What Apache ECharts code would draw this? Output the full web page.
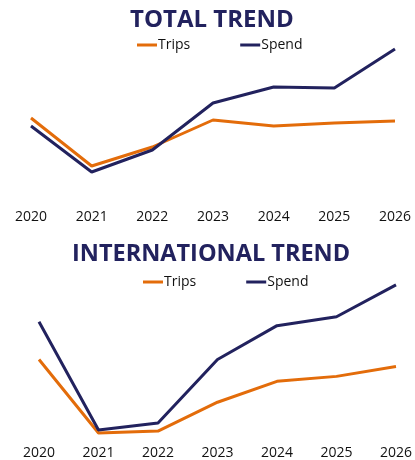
<!DOCTYPE html>
<html><head><meta charset="utf-8">
<script src="https://cdn.jsdelivr.net/npm/echarts@6/dist/echarts.min.js"></script>
<style>html,body{margin:0;padding:0;background:#fff}#c{width:415px;height:460px}</style>
</head><body><div id="c"></div>
<script>
const years = ['2020','2021','2022','2023','2024','2025','2026'];
const totalTrips = [82, 34, 53, 80, 74, 77, 79];
const totalSpend = [74, 28, 50, 97, 113, 112, 151];
const intlTrips = [80, 6, 8, 37, 58, 63, 73];
const intlSpend = [118, 9, 16, 80, 114, 123, 155];

const ORANGE = '#E36C0A', NAVY = '#22225E';
const FONT = '"Open Sans", sans-serif';
const chart = echarts.init(document.getElementById('c'), null, {renderer:'canvas'});
const xAx = (gi, margin) => ({type:'category', gridIndex:gi, data:years, boundaryGap:false,
  axisLine:{show:false}, axisTick:{show:false}, splitLine:{show:false},
  axisLabel:{color:'#111', fontSize:14, fontFamily:FONT, margin:margin}});
const yAx = (gi, max) => ({type:'value', gridIndex:gi, min:0, max:max, show:false, splitLine:{show:false}});
const line = (name, data, color, gi) => ({name, type:'line', data, xAxisIndex:gi, yAxisIndex:gi,
  symbol:'none', lineStyle:{width:3, color}, itemStyle:{color}, animation:false});
const legend = (top, left) => ({top, left, padding:0, itemGap:50, itemWidth:20, itemHeight:3, icon:'rect', data:['Trips','Spend'],
  textStyle:{fontSize:14, fontFamily:FONT, color:'#111', padding:[0,0,0,-4]}});
chart.setOption({
  animation:false,
  title:[
    {text:'TOTAL TREND', left:130, top:8, padding:0, textStyle:{color:NAVY, fontSize:24, fontWeight:'bold', fontFamily:FONT}},
    {text:'INTERNATIONAL TREND', left:72, top:242, padding:0, textStyle:{color:NAVY, fontSize:23.5, fontWeight:'bold', fontFamily:FONT}}
  ],
  legend:[legend(38, 137), legend(275, 143)],
  grid:[
    {left:31, right:20, top:40, height:160},
    {left:39, right:13, top:270, height:170}
  ],
  xAxis:[xAx(0, 10), xAx(1, 7)],
  yAxis:[yAx(0,160), yAx(1,170)],
  series:[
    line('Trips', totalTrips, ORANGE, 0),
    line('Spend', totalSpend, NAVY, 0),
    line('Trips', intlTrips, ORANGE, 1),
    line('Spend', intlSpend, NAVY, 1)
  ]
});
</script></body></html>
